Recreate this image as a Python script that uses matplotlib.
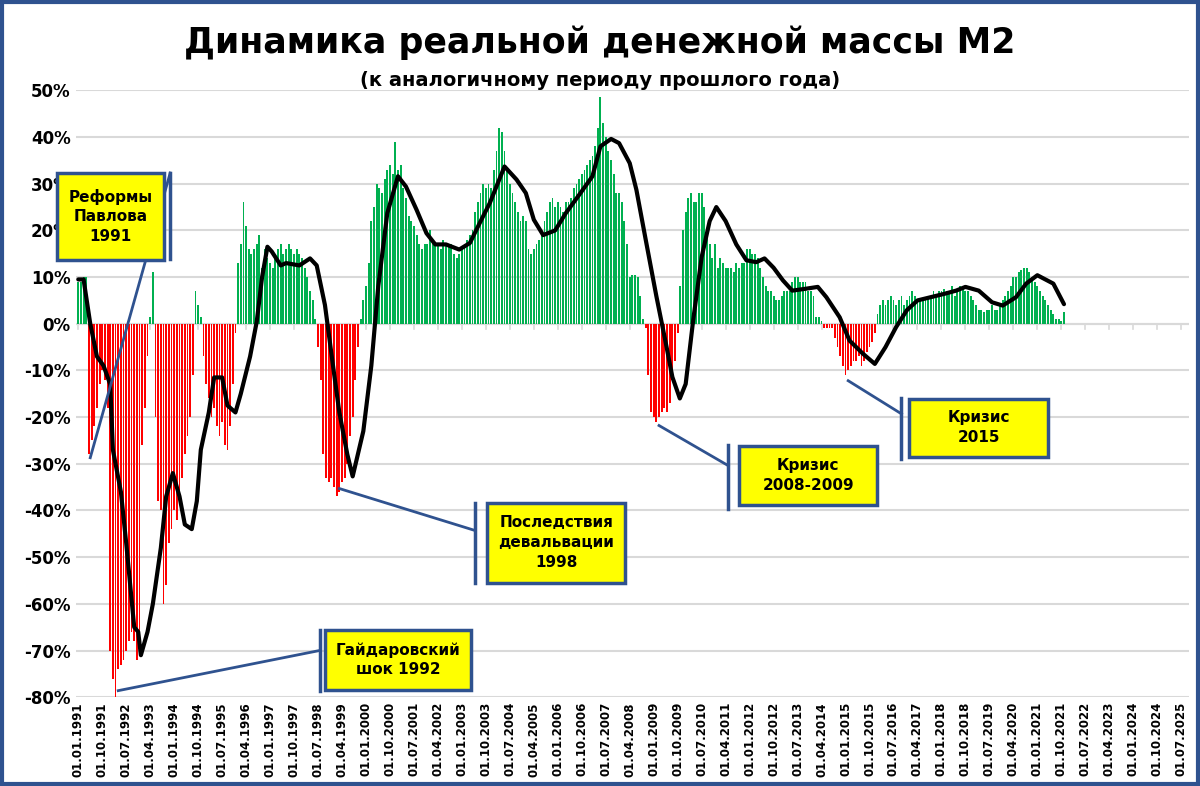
import matplotlib.pyplot as plt
from matplotlib.patches import Rectangle
import numpy as np

# real M2 growth, % y/y, monthly from Jan 1991
Y1991 = [9, 9, 10, 10, -28, -25, -22, -18, -13, -10, -12, -18]
Y1992 = [-70, -76, -80, -74, -73, -72, -70, -68, -66, -68, -72, -70]
Y1993 = [-26, -18, -7, 1.5, 11, -20, -38, -40, -60, -56, -47, -44]
Y1994 = [-40, -42, -36, -33, -28, -24, -20, -11, 7, 4, 1.5, -7]
Y1995 = [-13, -16, -20, -18, -22, -24, -21, -26, -27, -22, -13, -2]
Y1996 = [13, 17, 26, 21, 16, 15, 16, 17, 19, 12, 16, 14]
Y1997 = [13, 12, 15, 16, 17, 15, 16, 17, 16, 15, 16, 15]
Y1998 = [14, 12, 10, 7, 5, 1, -5, -12, -28, -33, -34, -33]
Y1999 = [-35, -37, -36, -34, -33, -30, -24, -20, -12, -5, 1, 5]
Y2000 = [8, 13, 22, 25, 30, 29, 28, 31, 33, 34, 32, 39]
Y2001 = [33, 34, 29, 27, 23, 22, 21, 19, 17, 16, 17, 17]
Y2002 = [20, 18, 17, 17, 16, 18, 17, 17, 17, 15, 14, 15]
Y2003 = [16, 17, 18, 19, 20, 24, 26, 28, 30, 29, 30, 29]
Y2004 = [33, 37, 42, 41, 37, 33, 30, 28, 26, 24, 22, 23]
Y2005 = [22, 16, 15, 16, 17, 18, 19, 22, 24, 26, 27, 25]
Y2006 = [26, 25, 24, 26, 26, 27, 29, 30, 31, 32, 33, 34]
Y2007 = [35, 36, 38, 42, 48.5, 43, 40, 37, 35, 32, 28, 28]
Y2008 = [26, 22, 17, 10, 10.5, 10.5, 10, 6, 1, -1, -11, -19]
Y2009 = [-20, -21, -20, -19, -18, -19, -17, -12, -8, -2, 8, 20]
Y2010 = [24, 27, 28, 26, 26, 28, 28, 25, 20, 17, 14, 17]
Y2011 = [12, 14, 13, 12, 12, 12, 11, 13, 12, 13, 13, 16]
Y2012 = [16, 15, 15, 14, 12, 10, 8, 7, 7, 6, 5, 5]
Y2013 = [6, 7, 7, 7, 9, 10, 10, 9, 9, 9, 7, 7]
Y2014 = [6, 1.5, 1.5, 0.5, -1, -1, -1, -1, -3, -5, -7, -9]
Y2015 = [-11, -10, -9, -8, -8, -7, -9, -8, -6, -5, -4, -2]
Y2016 = [2, 4, 5, 4, 5, 6, 5, 4, 5, 6, 4, 5]
Y2017 = [6, 7, 6, 5, 5, 5, 5.5, 6, 6, 7, 6, 7]
Y2018 = [7, 7.5, 7, 7, 8, 6, 7, 8, 8, 7, 7, 6]
Y2019 = [5, 4, 3, 3, 2.5, 3, 3, 4, 3, 3, 4, 5]
Y2020 = [6, 7, 8, 10, 10, 11, 11.5, 12, 12, 11, 10, 9]
Y2021 = [8, 7, 6, 5, 4, 3, 2, 1, 1, 0.5, 2.5]

# smoothed trend line (month index, value)
LINE_MONTHS = [0, 2, 4.5, 7, 9.5, 12, 13, 16, 18, 21, 22.5, 23.5, 26, 28, 31, 33,
               35.5, 38, 40, 42.6, 44.5, 46, 49, 51, 54, 56, 59, 61, 64.5, 67,
               69, 71, 72.6, 76, 78, 83, 87, 89.5, 92.6, 96, 98, 101, 103, 107,
               110, 112.6, 116, 120, 123, 127, 130.7, 134, 138, 143, 147, 150.7,
               154.5, 160, 164.5, 168, 171, 174.5, 179, 183, 188.5, 193, 196,
               200, 203, 207, 209.5, 213, 217, 220.8, 223, 225.8, 228, 230.8,
               234, 237, 239.5, 243, 247, 250.8, 254.5, 257.6, 261, 264.5, 268,
               273, 277.6, 280.8, 285.8, 289.5, 294.5, 299, 303, 307, 311, 315,
               320, 325, 329.5, 333, 338, 343, 347, 352, 355.8, 360, 366, 370]
LINE_VALUES = [9.5, 9.5, 0, -7, -9, -13, -27, -36, -47, -65, -66, -71, -66, -60,
               -48, -37, -32, -37, -43, -44, -38, -27, -19, -11.5, -11.5, -17.5,
               -19, -15, -7, 0.5, 10, 16.5, 15.5, 12.5, 13, 12.5, 14, 12.5, 4,
               -10.6, -19, -28, -32.7, -23, -9, 8, 23.7, 31.6, 29.4, 24.4, 19.4,
               17, 17, 15.9, 17.3, 21.6, 25.9, 33.7, 30.9, 28, 22.3, 19, 20,
               23.7, 28, 31.6, 38, 39.6, 38.7, 34.4, 28.7, 18, 5.9, -4.9, -11.4,
               -16, -12.9, 0.7, 14.3, 22, 25, 22, 17, 13.6, 13.2, 14, 12, 9.3,
               7.1, 7.5, 7.9, 5.7, 1.4, -3.6, -6.4, -8.6, -5, -0.7, 2.9, 5, 5.7,
               6.4, 7.1, 7.9, 7.1, 4.6, 3.9, 5.7, 8.6, 10.4, 8.6, 4.2]

TITLE = "Динамика реальной денежной массы М2"
SUBTITLE = "(к аналогичному периоду прошлого года)"

BOXES = [
    # text, center (month, %), width, height, bar (m, v0, v1), leader (m0, v0, m1, v1)
    ("Реформы\nПавлова\n1991", (12, 23), 40, 18.5, (34.5, 32.3, 13.9), (34.5, 32.3, 4.5, -28.7)),
    ("Гайдаровский\nшок 1992", (120, -72), 55, 12.8, (90.6, -65.7, -78.6), (90.6, -70, 15, -78.6)),
    ("Последствия\nдевальвации\n1998", (179.4, -46.9), 52, 17.1, (149, -38.3, -55.5), (149, -44.3, 98, -35.3)),
    ("Кризис\n2008-2009", (274, -32.5), 52, 12.8, (244, -26, -39.6), (244, -30.4, 218, -21.8)),
    ("Кризис\n2015", (338, -22.3), 52, 12.4, (309, -16, -28.9), (309, -19.3, 289, -12.2)),
]

values = np.array(Y1991 + Y1992 + Y1993 + Y1994 + Y1995 + Y1996 + Y1997 + Y1998
                  + Y1999 + Y2000 + Y2001 + Y2002 + Y2003 + Y2004 + Y2005 + Y2006
                  + Y2007 + Y2008 + Y2009 + Y2010 + Y2011 + Y2012 + Y2013 + Y2014
                  + Y2015 + Y2016 + Y2017 + Y2018 + Y2019 + Y2020 + Y2021)
months = np.arange(len(values))
colors = np.where(values >= 0, "#00b050", "#ff0000")

fig = plt.figure(figsize=(12, 7.86), dpi=100)
ax = fig.add_axes([0.063, 0.113, 0.928, 0.772])

ax.bar(months, values, width=0.7, color=colors, zorder=2)
ax.plot(LINE_MONTHS, LINE_VALUES, color="black", lw=3, zorder=4,
        solid_joinstyle="round", solid_capstyle="round")

ax.set_ylim(-80, 50)
ax.set_xlim(-1, 417)
ax.set_yticks(range(-80, 51, 10))
ax.set_yticklabels([f"{v}%" for v in range(-80, 51, 10)], fontsize=12, fontweight="bold")
ticks = list(range(0, 415, 9))
ax.set_xticks(ticks)
ax.set_xticklabels([f"01.{(t % 12) + 1:02d}.{1991 + t // 12}" for t in ticks],
                   rotation=90, fontsize=8.5, fontweight="bold")
ax.tick_params(length=0)
ax.grid(axis="y", color="#d9d9d9", lw=1.5, zorder=0)
ax.axhline(0, color="#d9d9d9", lw=1.5, zorder=1)
for t in ticks:
    ax.plot([t, t], [0, -1.2], color="#d9d9d9", lw=1.2, zorder=1)
for s in ax.spines.values():
    s.set_visible(False)

for text, (cx, cy), w, h, bar, lead in BOXES:
    ax.add_patch(Rectangle((cx - w / 2, cy - h / 2), w, h, facecolor="#ffff00",
                           edgecolor="#2f528f", lw=2.5, zorder=6, clip_on=False))
    ax.text(cx, cy, text, ha="center", va="center", fontsize=11,
            fontweight="bold", zorder=7, linespacing=1.4)
    ax.plot([bar[0], bar[0]], [bar[1], bar[2]], color="#2f528f", lw=2.5, zorder=6, clip_on=False)
    ax.plot([lead[0], lead[2]], [lead[1], lead[3]], color="#2f528f", lw=2, zorder=5, clip_on=False)

fig.text(0.5, 0.945, TITLE, ha="center", va="center", fontsize=25, fontweight="bold")
fig.text(0.5, 0.897, SUBTITLE, ha="center", va="center", fontsize=14, fontweight="bold")

fig.patches.append(Rectangle((0.002, 0.003), 0.996, 0.994, transform=fig.transFigure,
                             fill=False, edgecolor="#2f528f", lw=3))

fig.savefig("out.png", dpi=100)
